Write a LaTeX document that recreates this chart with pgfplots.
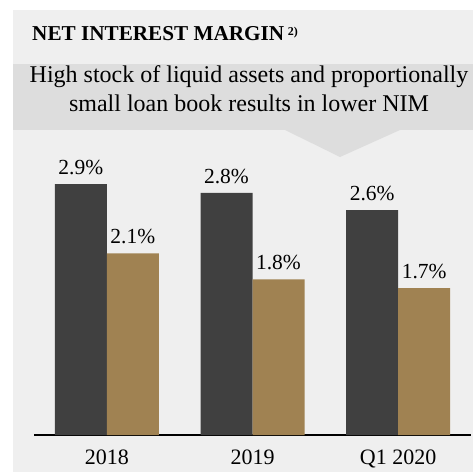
\documentclass[border=0pt]{standalone}
\usepackage{pgfplots}
\pgfplotsset{compat=1.18}
\usepackage{fontspec}
\setmainfont{Liberation Serif}

\definecolor{panel}{HTML}{EFEFEF}
\definecolor{callout}{HTML}{DDDDDD}
\definecolor{darkbar}{HTML}{404040}
\definecolor{tanbar}{HTML}{A08252}

\begin{document}
\begin{tikzpicture}
\useasboundingbox (0,0) rectangle (473pt,472pt);
\fill[white] (0,0) rectangle (473pt,472pt);
\fill[panel] (13pt,0) rectangle (473pt,462pt);
% callout box with pointer
\fill[callout] (13pt,342pt) rectangle (473pt,408pt);
\fill[callout] (285pt,342pt) -- (400pt,342pt) -- (340pt,315pt) -- cycle;
\node[anchor=base west, inner sep=0pt, font=\fontsize{21.2}{25}\selectfont\bfseries]
  at (32pt,431pt) {NET INTEREST MARGIN\,\raisebox{0.6ex}{\fontsize{12}{14}\selectfont\bfseries 2)}};
\node[anchor=base, inner sep=0pt, font=\fontsize{24}{28}\selectfont]
  at (249pt,389pt) {High stock of liquid assets and proportionally};
\node[anchor=base, inner sep=0pt, font=\fontsize{24}{28}\selectfont]
  at (249pt,360pt) {small loan book results in lower NIM};

\begin{axis}[
    at={(34pt,37pt)}, anchor=south west,
    scale only axis,
    width=437pt, height=294pt,
    xmin=-0.5, xmax=2.5,
    ymin=0, ymax=3.4,
    ybar=0pt, bar width=52pt,
    axis x line=bottom, axis y line=none,
    x axis line style={-, line width=1.3pt, black},
    xtick=data,
    xticklabels={2018,2019,Q1 2020},
    major tick length=0pt,
    xticklabel style={anchor=base, yshift=-29pt, font=\fontsize{22}{26}\selectfont},
    clip=false,
    nodes near coords={\pgfmathprintnumber[fixed,fixed zerofill,precision=1]{\pgfplotspointmeta}\%},
    every node near coord/.append style={anchor=base, yshift=9.5pt, inner sep=0pt, font=\fontsize{21.5}{25}\selectfont, black},
    /pgf/number format/assume math mode=true,
]
\addplot[fill=darkbar, draw=none] coordinates {(0,2.9) (1,2.8) (2,2.6)};
\addplot[fill=tanbar, draw=none] coordinates {(0,2.1) (1,1.8) (2,1.7)};
\end{axis}
\end{tikzpicture}
\end{document}
